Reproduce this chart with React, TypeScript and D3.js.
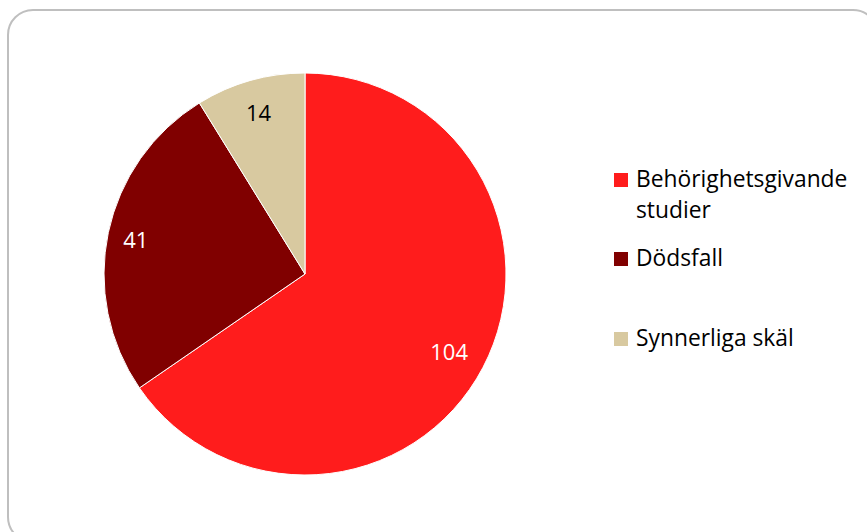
import React from "react";
import * as d3 from "d3";

const categories = ["Behörighetsgivande studier", "Dödsfall", "Synnerliga skäl"];
const legendLines = [["Behörighetsgivande", "studier"], ["Dödsfall"], ["Synnerliga skäl"]];
const values = [104, 41, 14];
const colors = ["#FF1C1C", "#800000", "#D8C9A0"];
const labelColors = ["#FFFFFF", "#FFFFFF", "#000000"];

const W = 867;
const H = 532;
const cx = 305;
const cy = 274;
const R = 201;
const FONT = "'Open Sans', sans-serif";

export default function App() {
  const pie = d3.pie<number>().sort(null).value((d) => d);
  const arcs = pie(values);
  const arc = d3.arc<d3.PieArcDatum<number>>().innerRadius(0).outerRadius(R);
  const labelRadii = [0.81, 0.86, 0.845];
  const legendY = [173, 252, 332];

  return (
    <svg width={W} height={H} style={{ position: "absolute", left: 0, top: 0 }}>
      <rect x={0} y={0} width={W} height={H} fill="#fff" />
      <rect x={8} y={10} width={870} height={532} rx={25} ry={25} fill="#fff" stroke="#BFBFBF" strokeWidth={2} />
      <g transform={`translate(${cx},${cy})`}>
        {arcs.map((a, i) => (
          <path key={i} d={arc(a) || ""} fill={colors[i]} stroke="#fff" strokeWidth={1} />
        ))}
        {arcs.map((a, i) => {
          const la = d3.arc<d3.PieArcDatum<number>>().innerRadius(R * labelRadii[i]).outerRadius(R * labelRadii[i]);
          const [x, y] = la.centroid(a);
          return (
            <text key={i} x={x} y={y + 1} fill={labelColors[i]} fontFamily={FONT} fontSize={22}
              textAnchor="middle" dominantBaseline="central">{values[i]}</text>
          );
        })}
      </g>
      <g>
        {categories.map((c, i) => (
          <g key={c} transform={`translate(614,${legendY[i]})`}>
            <rect x={0} y={0} width={14} height={14} fill={colors[i]} />
            {legendLines[i].map((l, j) => (
              <text key={j} x={22} y={14 + j * 31} fontFamily={FONT} fontSize={22.8} fill="#000">{l}</text>
            ))}
          </g>
        ))}
      </g>
    </svg>
  );
}
